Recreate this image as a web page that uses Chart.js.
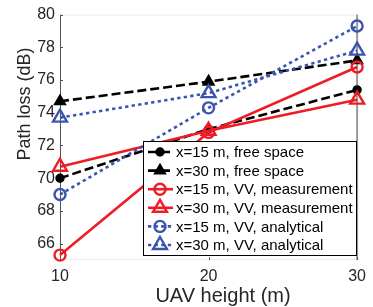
<!DOCTYPE html>
<html>
<head>
<meta charset="utf-8">
<script src="https://cdn.jsdelivr.net/npm/chart.js@4.4.1/dist/chart.umd.min.js"></script>
<style>
  html, body { margin: 0; padding: 0; background: #fff; }
</style>
</head>
<body>
<canvas id="chart" width="373" height="307"></canvas>
<script>
// values
const heights = [10, 20, 30];
const freeSpace15 = [70.0, 73.0, 75.4];
const freeSpace30 = [74.7, 75.9, 77.2];
const measured15 = [65.3, 72.8, 76.8];
const measured30 = [70.7, 72.9, 74.8];
const analytical15 = [69.0, 74.3, 79.3];
const analytical30 = [73.7, 75.2, 77.8];

const seriesLabels = [
  "x=15 m, free space",
  "x=30 m, free space",
  "x=15 m, VV, measurement",
  "x=30 m, VV, measurement",
  "x=15 m, VV, analytical",
  "x=30 m, VV, analytical",
];
const xTicks = [10, 20, 30];
const yTicks = [66, 68, 70, 72, 74, 76, 78, 80];
const xTitle = "UAV height (m)";
const yTitle = "Path loss (dB)";

const FONT = "'Liberation Sans', Arial, Helvetica, sans-serif";
const BLACK = "#000000";
const RED = "#ee1c25";
const BLUE = "#3a55b0";

function series(label, values, color, dash, style, radius, filled, order) {
  return {
    label,
    data: values.map((v, i) => ({ x: heights[i], y: v })),
    borderColor: color,
    borderWidth: 2.6,
    borderDash: dash,
    borderCapStyle: "butt",
    pointStyle: style,
    pointRadius: radius,
    pointHoverRadius: radius,
    pointBorderWidth: 2.4,
    pointBorderColor: color,
    pointBackgroundColor: filled ? color : "rgba(255,255,255,0)",
    tension: 0,
    clip: false,
    order,
  };
}

const datasets = [
  series(seriesLabels[0], freeSpace15, BLACK, [9, 4], "circle", 3.5, true, 6),
  series(seriesLabels[1], freeSpace30, BLACK, [9, 4], "triangle", 5.5, true, 5),
  series(seriesLabels[2], measured15, RED, [], "circle", 5.5, false, 4),
  series(seriesLabels[3], measured30, RED, [], "triangle", 8, false, 3),
  series(seriesLabels[4], analytical15, BLUE, [3.3, 3.3], "circle", 5.5, false, 2),
  series(seriesLabels[5], analytical30, BLUE, [3.3, 3.3], "triangle", 8, false, 1),
];

// light box round the axes, small inward ticks, axis titles
const framePlugin = {
  id: "frame",
  beforeDatasetsDraw(chart) {
    const { ctx, chartArea: a, scales } = chart;
    ctx.save();
    ctx.lineWidth = 1;
    ctx.strokeStyle = "#ececec";
    ctx.beginPath();
    ctx.moveTo(a.left, a.top + 0.5);
    ctx.lineTo(a.right, a.top + 0.5);
    ctx.moveTo(a.left, a.bottom - 0.5);
    ctx.lineTo(a.right, a.bottom - 0.5);
    ctx.stroke();
    ctx.strokeStyle = "#999999";
    ctx.lineWidth = 2;
    ctx.beginPath();
    ctx.moveTo(a.right, a.top);
    ctx.lineTo(a.right, a.bottom);
    ctx.stroke();
    ctx.strokeStyle = "#555555";
    ctx.lineWidth = 1;
    ctx.beginPath();
    ctx.moveTo(a.left + 0.5, a.top);
    ctx.lineTo(a.left + 0.5, a.bottom);
    yTicks.forEach((v) => {
      const y = Math.round(scales.y.getPixelForValue(v)) + 0.5;
      ctx.moveTo(a.left, y);
      ctx.lineTo(a.left + 3, y);
    });
    xTicks.forEach((v) => {
      const x = Math.round(scales.x.getPixelForValue(v)) + 0.5;
      ctx.moveTo(x, a.bottom);
      ctx.lineTo(x, a.bottom - 3);
    });
    ctx.stroke();
    ctx.restore();
  },
  afterDraw(chart) {
    const { ctx } = chart;
    ctx.save();
    ctx.fillStyle = "#262626";
    ctx.textAlign = "center";
    ctx.textBaseline = "middle";
    ctx.font = `20px ${FONT}`;
    ctx.fillText(xTitle, 223, 296);
    ctx.translate(25, 104);
    ctx.rotate(-Math.PI / 2);
    ctx.font = `18px ${FONT}`;
    ctx.fillText(yTitle, 0, 0);
    ctx.restore();
  },
};

// boxed legend inside the axes, lower right
const legendPlugin = {
  id: "boxLegend",
  afterDraw(chart) {
    const { ctx } = chart;
    const box = { left: 143, top: 141, right: 356, bottom: 255 };
    const rowH = 18.6;
    ctx.save();
    ctx.fillStyle = "#ffffff";
    ctx.fillRect(box.left, box.top, box.right - box.left, box.bottom - box.top);
    ctx.strokeStyle = "#000000";
    ctx.lineWidth = 1;
    ctx.strokeRect(box.left + 0.5, box.top + 0.5, box.right - box.left, box.bottom - box.top);
    chart.data.datasets.forEach((ds, i) => {
      const y = box.top + 11 + i * rowH;
      ctx.save();
      ctx.strokeStyle = ds.borderColor;
      ctx.lineWidth = ds.borderWidth;
      ctx.setLineDash(ds.borderDash);
      ctx.lineCap = "butt";
      ctx.beginPath();
      ctx.moveTo(box.left + 5, y);
      ctx.lineTo(box.left + 30, y);
      ctx.stroke();
      ctx.setLineDash([]);
      ctx.fillStyle = ds.pointBackgroundColor;
      ctx.strokeStyle = ds.pointBorderColor;
      ctx.lineWidth = ds.pointBorderWidth;
      Chart.helpers.drawPoint(ctx, {
        pointStyle: ds.pointStyle,
        radius: ds.pointRadius,
        rotation: 0,
        borderWidth: ds.pointBorderWidth,
      }, box.left + 17, y);
      ctx.restore();
      ctx.fillStyle = "#000000";
      ctx.font = `15px ${FONT}`;
      ctx.textAlign = "left";
      ctx.textBaseline = "middle";
      ctx.fillText(ds.label, box.left + 33, y + 1);
    });
    ctx.restore();
  },
};

new Chart(document.getElementById("chart"), {
  type: "line",
  data: { datasets },
  options: {
    responsive: false,
    animation: false,
    layout: { padding: { top: 14, right: 11, left: 0, bottom: 0 } },
    plugins: {
      legend: { display: false },
      tooltip: { enabled: false },
    },
    scales: {
      x: {
        type: "linear",
        min: 10,
        max: 30,
        afterBuildTicks: (scale) => { scale.ticks = xTicks.map((v) => ({ value: v })); },
        afterFit: (scale) => { scale.height = 47; },
        grid: { display: false, drawTicks: false },
        border: { display: false },
        ticks: { color: "#262626", font: { family: FONT, size: 16 }, padding: 7, maxRotation: 0 },
      },
      y: {
        type: "linear",
        min: 65,
        max: 80,
        afterBuildTicks: (scale) => { scale.ticks = yTicks.map((v) => ({ value: v })); },
        afterFit: (scale) => { scale.width = 60; },
        grid: { display: false, drawTicks: false },
        border: { display: false },
        ticks: { color: "#262626", font: { family: FONT, size: 16 }, padding: 5 },
      },
    },
  },
  plugins: [framePlugin, legendPlugin],
});
</script>
</body>
</html>
